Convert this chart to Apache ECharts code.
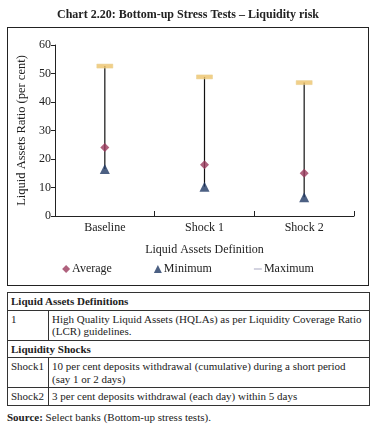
<!DOCTYPE html>
<html><head><meta charset="utf-8">
<script src="https://cdn.jsdelivr.net/npm/echarts@6/dist/echarts.min.js"></script>
<style>
html,body{margin:0;padding:0;background:#fff;width:376px;height:428px;overflow:hidden;font-family:"Liberation Serif","DejaVu Serif",serif;color:#222;}
#box{position:absolute;left:7px;top:27px;width:360px;height:257px;border:1.5px solid #222;}
#chart{position:absolute;left:0;top:0;width:376px;height:290px;}
table{position:absolute;left:7px;top:292px;width:363px;border-collapse:collapse;font-size:11px;line-height:12.5px;}
td{border:1px solid #333;padding:2px 3px;vertical-align:top;}
.h{font-weight:bold;}
#src{position:absolute;left:7px;top:411px;font-size:11px;}
</style></head><body>
<div id="box"></div>
<div id="chart"></div>
<table>
<tr style="height:17px"><td colspan="2" class="h">Liquid Assets Definitions</td></tr>
<tr style="height:30px"><td style="width:34px">1</td><td>High Quality Liquid Assets (HQLAs) as per Liquidity Coverage Ratio (LCR) guidelines.</td></tr>
<tr style="height:17px"><td colspan="2" class="h">Liquidity Shocks</td></tr>
<tr style="height:30px"><td>Shock1</td><td>10 per cent deposits withdrawal (cumulative) during a short period (say 1 or 2 days)</td></tr>
<tr style="height:17px"><td>Shock2</td><td>3 per cent deposits withdrawal (each day) within 5 days</td></tr>
</table>
<div id="src"><b>Source:</b> Select banks (Bottom-up stress tests).</div>
<script>
const categories = ['Baseline', 'Shock 1', 'Shock 2'];
const averageVals = [24, 18, 15];
const minimumVals = [16.5, 10.3, 6.6];
const maximumVals = [52.6, 48.8, 46.8];
const yTicks = [0, 10, 20, 30, 40, 50, 60];

const font = '"Liberation Serif","DejaVu Serif",serif';
const chart = echarts.init(document.getElementById('chart'));
chart.setOption({
  animation: false,
  textStyle: {fontFamily: font, color: '#222'},
  title: {
    text: 'Chart 2.20: Bottom-up Stress Tests \u2013 Liquidity risk',
    left: 'center', top: 4,
    textStyle: {fontFamily: font, fontSize: 12, fontWeight: 'bold', color: '#222'}
  },
  legend: {
    top: 258, left: 'center', itemGap: 42, itemWidth: 8, itemHeight: 8,
    textStyle: {fontFamily: font, fontSize: 12, color: '#222', padding: [0,0,0,-3]},
    data: [
      {name: 'Average', icon: 'diamond'},
      {name: 'Minimum', icon: 'triangle'},
      {name: 'Maximum', icon: 'path://M0,4H10V5.2H0Z'}
    ]
  },
  grid: {left: 55, right: 22, top: 45, bottom: 74},
  xAxis: {
    type: 'category', data: categories, boundaryGap: true,
    name: 'Liquid Assets Definition', nameLocation: 'middle', nameGap: 28,
    nameTextStyle: {fontFamily: font, fontSize: 12, color: '#222'},
    axisLine: {lineStyle: {color: '#222', width: 1}},
    axisTick: {show: true, inside: true, length: 5, alignWithLabel: false, lineStyle: {color: '#222'}},
    axisLabel: {fontFamily: font, fontSize: 12, color: '#222', margin: 6}
  },
  yAxis: {
    type: 'value', min: 0, max: 60, interval: 10,
    name: 'Liquid Assets Ratio (per cent)', nameLocation: 'middle', nameGap: 27,
    nameTextStyle: {fontFamily: font, fontSize: 12.5, color: '#222'},
    axisLine: {show: true, lineStyle: {color: '#222', width: 1}},
    axisTick: {show: true, length: 4, lineStyle: {color: '#222'}},
    axisLabel: {fontFamily: font, fontSize: 12, color: '#222', margin: 4,
      formatter: v => yTicks.includes(v) ? String(v) : ''},
    splitLine: {show: false}
  },
  series: [
    {
      type: 'custom', name: 'range', silent: true, z: 1,
      data: categories.map((c, i) => [i, minimumVals[i], maximumVals[i]]),
      renderItem: (params, api) => {
        const lo = api.coord([api.value(0), api.value(1)]);
        const hi = api.coord([api.value(0), api.value(2)]);
        return {type: 'line', shape: {x1: lo[0], y1: lo[1], x2: hi[0], y2: hi[1]},
          style: {stroke: '#111', lineWidth: 1.2}};
      }
    },
    {type: 'scatter', name: 'Average', data: averageVals, symbol: 'diamond', symbolSize: 9,
      itemStyle: {color: '#9b3a5c'}, z: 3},
    {type: 'scatter', name: 'Minimum', data: minimumVals, symbol: 'triangle', symbolSize: 10,
      itemStyle: {color: '#1f3864'}, z: 3},
    {type: 'scatter', name: 'Maximum values', data: maximumVals, symbol: 'rect', symbolSize: [16, 4],
      itemStyle: {color: '#eec36a', borderColor: '#e6cf8e', borderWidth: 0.5}, z: 3},
    {type: 'scatter', name: 'Maximum', data: [], itemStyle: {color: '#8e8fb0'}}
  ]
});
</script>
</body></html>
